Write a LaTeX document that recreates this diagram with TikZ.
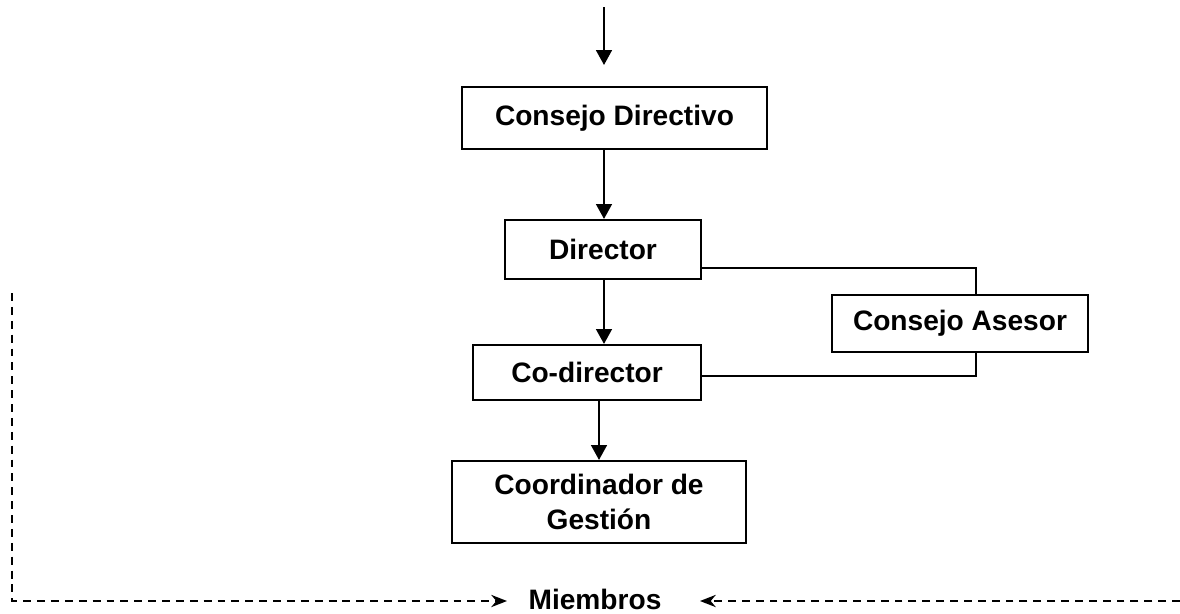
\documentclass[tikz,border=0pt]{standalone}
\usepackage{fontspec}
\setmainfont{Liberation Sans}
\usetikzlibrary{arrows.meta}
\begin{document}
\begin{tikzpicture}[x=0.02cm,y=-0.02cm,
  box/.style={draw=black,line width=1.2pt,rectangle,inner sep=0pt,align=center,
    font=\fontsize{16}{20}\selectfont\bfseries},
  arr/.style={line width=1.2pt,-{Triangle[length=8.5pt,width=9pt]}},
  thin/.style={line width=0.8pt},
  dsh/.style={line width=1pt,dash pattern=on 4.5pt off 3.4pt,-{Stealth[length=9pt,width=7pt]}}]
\useasboundingbox (0,0) rectangle (1180,613);
\node[box,minimum width=6.1cm,minimum height=1.24cm] (CD) at (614.5,118) {Consejo Directivo};
\node[box,minimum width=3.92cm,minimum height=1.18cm] (Dir) at (603,249.5) {Director};
\node[box,minimum width=5.12cm,minimum height=1.14cm] (CA) at (960,323.5) {Consejo Asesor};
\node[box,minimum width=4.56cm,minimum height=1.1cm] (CoD) at (587,372.5) {Co-director};
\node[box,minimum width=5.88cm,minimum height=1.64cm] (CG) at (599,502) {Coordinador de\\Gesti\'on};
\node[font=\fontsize{16}{20}\selectfont\bfseries,inner sep=0pt,anchor=base] (M) at (595,609) {Miembros};
\coordinate (top) at (604,7);
\coordinate (topend) at (604,65);
\coordinate (a1) at (701,268);
\coordinate (ca1) at (976,295);
\coordinate (ca2) at (976,352);
\coordinate (b1) at (701,376);
\coordinate (L) at (12,293);
\coordinate (ML) at (507,601);
\coordinate (MR) at (700,601);
\coordinate (R) at (1180,601);
\draw[arr] (top) -- (topend);
\draw[arr] (CD.south -| top) -- (Dir.north -| top);
\draw[arr] (Dir.south -| top) -- (CoD.north -| top);
\draw[arr] (CoD.south -| CG.north) -- (CG.north);
\draw[thin] (Dir.east |- a1) -| (ca1);
\draw[thin] (ca2) |- (CoD.east |- b1);
\draw[dsh] (L) |- (ML);
\draw[dsh] (R) -- (MR);
\end{tikzpicture}
\end{document}
